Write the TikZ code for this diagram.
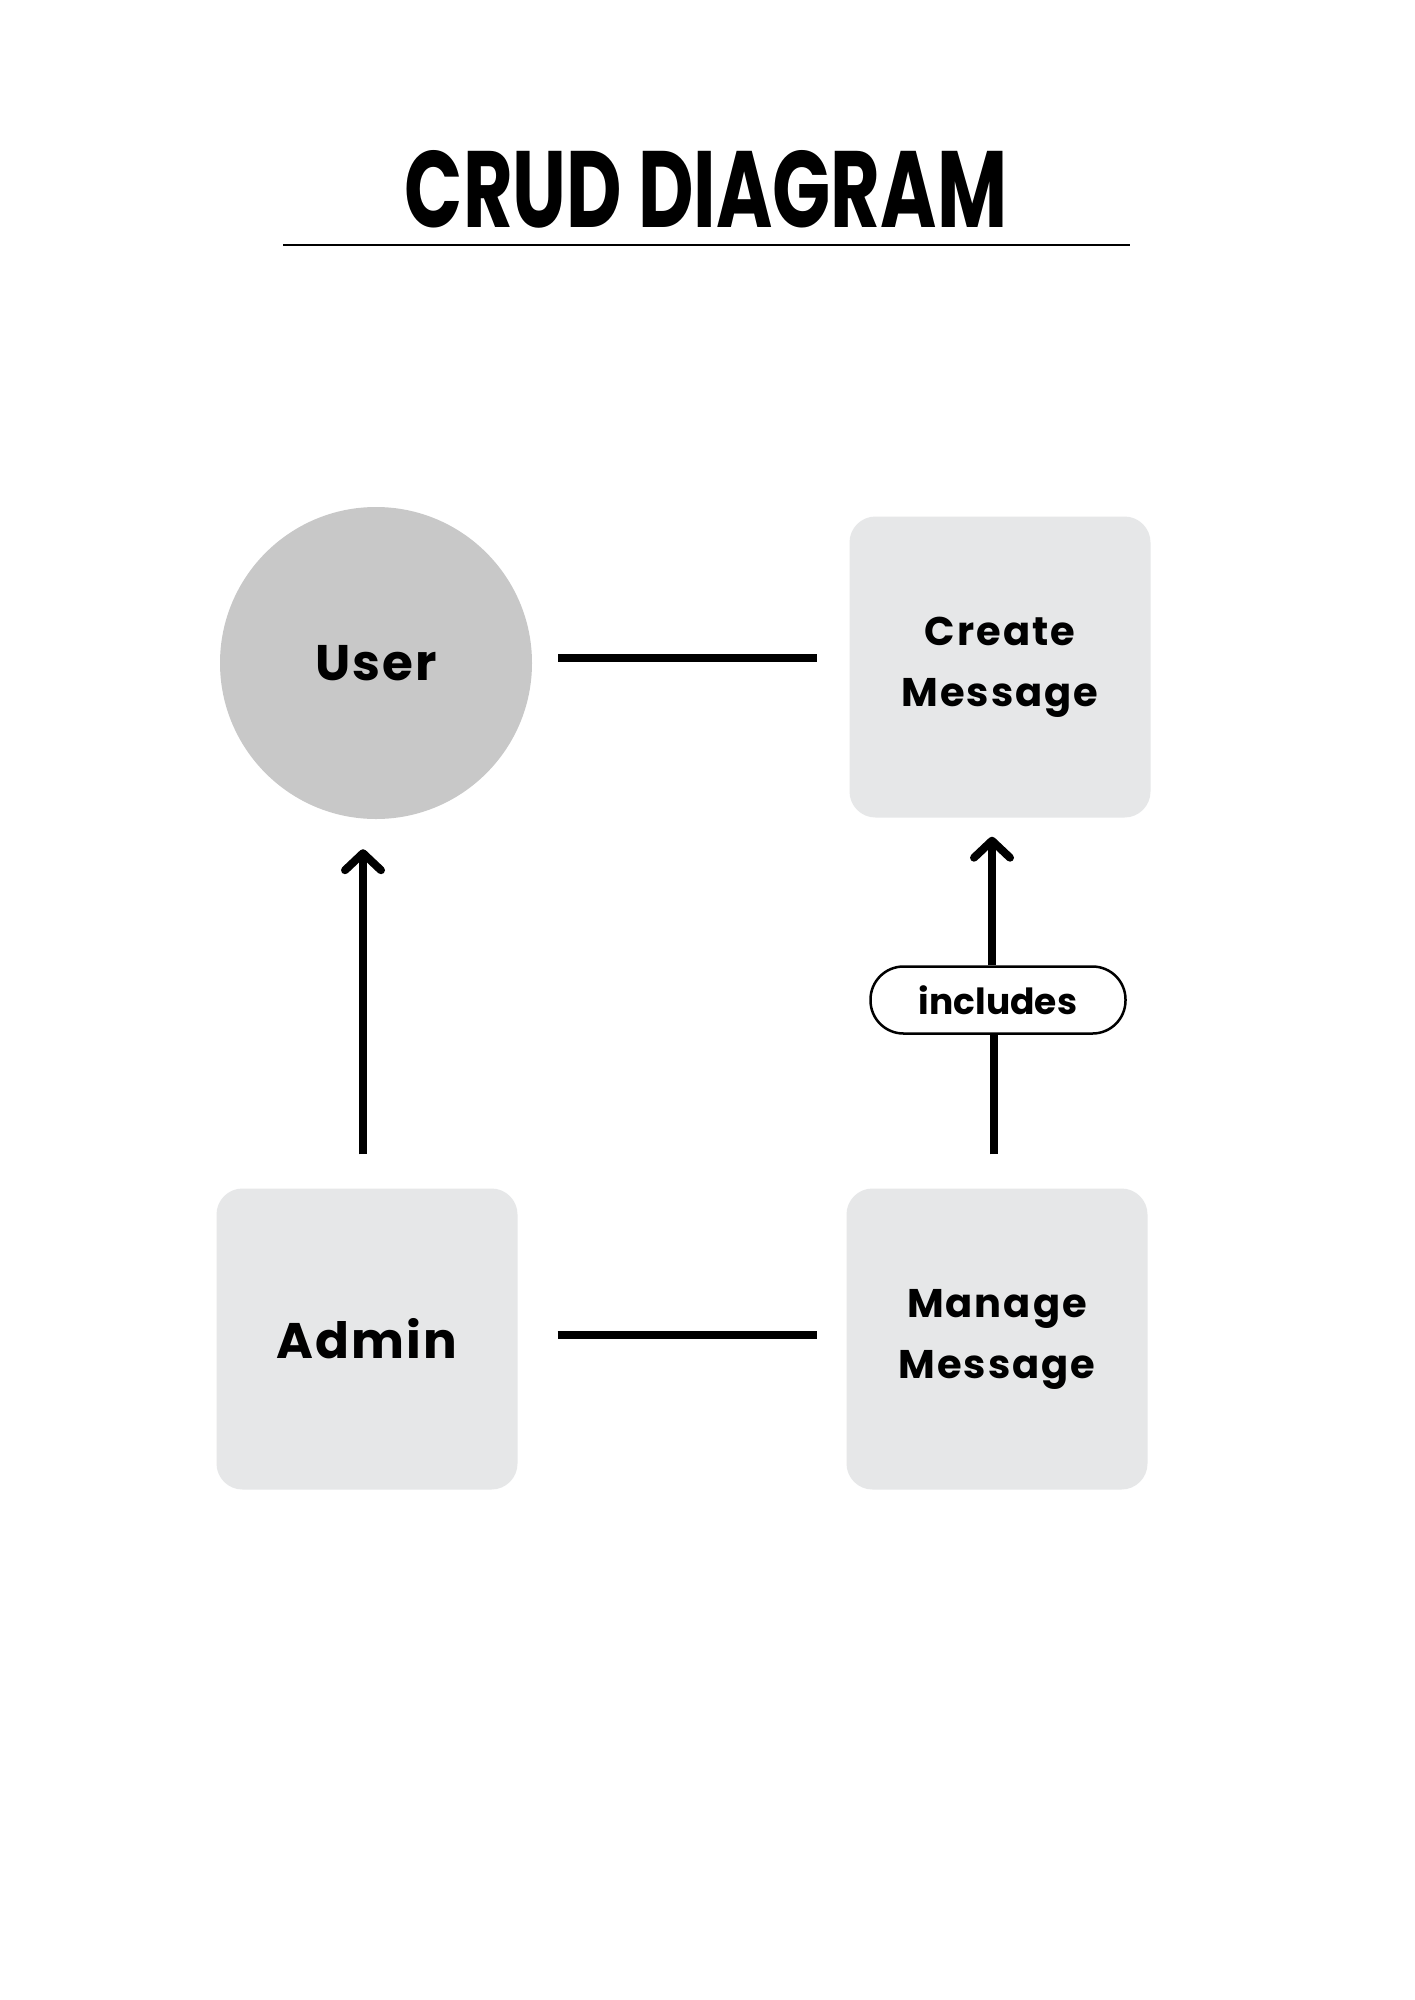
\documentclass[tikz,border=0pt]{standalone}
\usepackage{fontspec}
\setmainfont{Poppins}
\usepackage{graphicx}
\usetikzlibrary{arrows.meta,calc}
\definecolor{boxgray}{HTML}{E6E7E8}
\definecolor{circgray}{HTML}{C8C8C8}
\tikzset{
  box/.style={rectangle, rounded corners=26pt, fill=boxgray, minimum width=301pt, minimum height=301pt, inner sep=0pt, align=center},
  bigtxt/.style={font=\fontsize{50}{60}\selectfont\bfseries\addfontfeature{LetterSpace=4}},
  medtxt/.style={font=\fontsize{40}{61}\selectfont\bfseries\addfontfeature{LetterSpace=5}},
  link/.style={line width=8pt},
  arr/.style={line width=8pt, -{Straight Barb[length=17pt,width=36pt,round,line width=8pt]}},
  pill/.style={rectangle, rounded corners=33pt, draw, line width=2.5pt, fill=white, minimum width=255pt, minimum height=67pt, inner sep=0pt, font=\fontsize{36}{44}\selectfont\bfseries}
}
\begin{document}
\begin{tikzpicture}[x=1pt,y=-1pt]
\useasboundingbox (0,0) rectangle (1414,2000);
\fill[white] (0,0) rectangle (1414,2000);
\node (title) at (706,189) {\resizebox{602pt}{77pt}{\bfseries CRUD DIAGRAM}};
\coordinate (ulA) at (283,245);
\coordinate (ulB) at (1130,245);
\draw[line width=2pt] (ulA) -- (ulB);

\node[circle, fill=circgray, minimum size=312pt, inner sep=0pt, bigtxt] (user) at (376,663) {User};
\node[box, medtxt] (create) at (1000,667) {Create\\Message};
\node[box, bigtxt] (admin) at (367,1339) {Admin};
\node[box, medtxt] (manage) at (997,1339) {Manage\\Message};
\node[pill] (inc) at (998,1000) {includes};

\draw[link, shorten <=26pt, shorten >=32pt] ([yshift=5pt]user.east) -- ([yshift=5pt]user.east -| create.west);
\draw[link, shorten <=40pt, shorten >=29pt] ([yshift=4pt]admin.east) -- ([yshift=4pt]admin.east -| manage.west);
\draw[arr, shorten <=34pt, shorten >=30pt] ([xshift=-4pt]admin.north) -- ([xshift=-4pt]admin.north |- user.south);
\draw[link, shorten <=34pt] ([xshift=-3pt]manage.north) -- ([xshift=-3pt]manage.north |- inc.south);
\draw[arr, shorten >=19pt] ([xshift=-6pt]inc.north) -- ([xshift=-6pt]inc.north |- create.south);
\end{tikzpicture}
\end{document}
